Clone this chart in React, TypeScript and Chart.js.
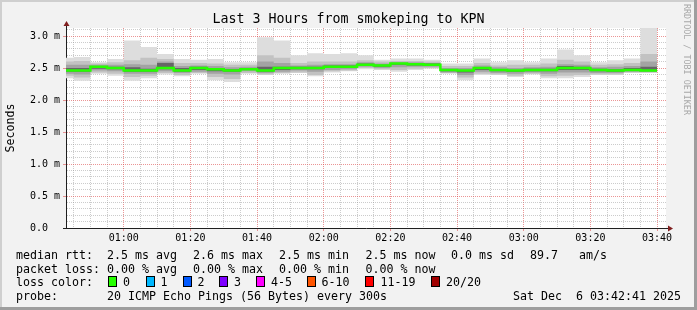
import React, { useEffect, useRef } from 'react';
import { Chart, registerables } from 'chart.js';

Chart.register(...registerables);

// ---------- data ----------
const rangeStart = '00:42:41';
const rangeEnd = '03:42:41';

// end time of each 300 s probe interval
const barEnds = [
  '00:45', '00:50', '00:55', '01:00', '01:05', '01:10', '01:15', '01:20', '01:25',
  '01:30', '01:35', '01:40', '01:45', '01:50', '01:55', '02:00', '02:05', '02:10',
  '02:15', '02:20', '02:25', '02:30', '02:35', '02:40', '02:45', '02:50', '02:55',
  '03:00', '03:05', '03:10', '03:15', '03:20', '03:25', '03:30', '03:35', '03:40',
];

// ping rtt distribution per interval (ms), outer to inner
const pingMax = [2.66, 2.67, 2.59, 2.64, 2.93, 2.83, 2.72, 2.64, 2.63, 2.64, 2.59, 2.59, 2.98, 2.93, 2.70, 2.73, 2.72, 2.73, 2.70, 2.63, 2.65, 2.65, 2.63, 2.57, 2.57, 2.65, 2.59, 2.62, 2.59, 2.65, 2.79, 2.70, 2.59, 2.62, 2.65, 3.20];
const pingHigh2 = [2.60, 2.61, 2.57, 2.59, 2.62, 2.66, 2.64, 2.58, 2.58, 2.57, 2.55, 2.55, 2.70, 2.66, 2.58, 2.60, 2.60, 2.60, 2.62, 2.60, 2.61, 2.61, 2.60, 2.53, 2.53, 2.58, 2.54, 2.55, 2.55, 2.57, 2.63, 2.60, 2.55, 2.56, 2.58, 2.72];
const pingHigh3 = [2.55, 2.55, 2.55, 2.55, 2.56, 2.55, 2.60, 2.53, 2.54, 2.53, 2.51, 2.52, 2.60, 2.58, 2.54, 2.55, 2.56, 2.56, 2.59, 2.57, 2.59, 2.59, 2.58, 2.50, 2.50, 2.54, 2.51, 2.50, 2.51, 2.52, 2.56, 2.55, 2.51, 2.52, 2.53, 2.60];
const pingHigh4 = [2.50, 2.50, 2.53, 2.52, 2.51, 2.49, 2.58, 2.50, 2.52, 2.50, 2.48, 2.50, 2.52, 2.52, 2.52, 2.52, 2.54, 2.54, 2.57, 2.55, 2.58, 2.58, 2.57, 2.48, 2.47, 2.51, 2.48, 2.47, 2.49, 2.49, 2.53, 2.52, 2.49, 2.48, 2.50, 2.52];
const pingMedian = [2.46, 2.46, 2.52, 2.50, 2.46, 2.46, 2.50, 2.46, 2.50, 2.48, 2.46, 2.48, 2.46, 2.50, 2.50, 2.50, 2.52, 2.52, 2.55, 2.54, 2.57, 2.56, 2.55, 2.47, 2.46, 2.50, 2.47, 2.46, 2.47, 2.47, 2.50, 2.50, 2.47, 2.46, 2.47, 2.46];
const pingLow4 = [2.44, 2.44, 2.49, 2.48, 2.44, 2.44, 2.48, 2.44, 2.47, 2.45, 2.44, 2.47, 2.44, 2.47, 2.48, 2.48, 2.50, 2.50, 2.54, 2.52, 2.55, 2.54, 2.54, 2.45, 2.43, 2.47, 2.45, 2.44, 2.45, 2.45, 2.47, 2.47, 2.45, 2.44, 2.46, 2.45];
const pingLow3 = [2.41, 2.40, 2.46, 2.45, 2.41, 2.41, 2.45, 2.42, 2.44, 2.41, 2.40, 2.45, 2.42, 2.44, 2.46, 2.44, 2.47, 2.48, 2.52, 2.50, 2.51, 2.52, 2.52, 2.43, 2.39, 2.44, 2.42, 2.41, 2.43, 2.41, 2.43, 2.43, 2.42, 2.42, 2.44, 2.44];
const pingLow2 = [2.38, 2.35, 2.43, 2.41, 2.36, 2.38, 2.42, 2.39, 2.42, 2.36, 2.33, 2.42, 2.40, 2.42, 2.43, 2.39, 2.45, 2.46, 2.50, 2.48, 2.47, 2.49, 2.50, 2.42, 2.35, 2.41, 2.40, 2.38, 2.41, 2.37, 2.38, 2.39, 2.40, 2.40, 2.43, 2.43];
const pingMin = [2.34, 2.30, 2.41, 2.38, 2.30, 2.34, 2.40, 2.37, 2.41, 2.31, 2.28, 2.41, 2.39, 2.41, 2.42, 2.37, 2.43, 2.45, 2.48, 2.47, 2.44, 2.47, 2.49, 2.41, 2.31, 2.39, 2.39, 2.36, 2.40, 2.34, 2.34, 2.36, 2.39, 2.39, 2.42, 2.42];

const xTickLabels = ['01:00', '01:20', '01:40', '02:00', '02:20', '02:40', '03:00', '03:20', '03:40'];
const yTickLabels = ['0.0', '0.5 m', '1.0 m', '1.5 m', '2.0 m', '2.5 m', '3.0 m'];
const yMax = 3.125;
const stepMinutes = 5;

const lossLegend = [
  { label: '0', color: '#26ff00', box: 108, text: 123 },
  { label: '1', color: '#00b8ff', box: 145.5, text: 160.5 },
  { label: '2', color: '#0059ff', box: 182.5, text: 197.5 },
  { label: '3', color: '#7e00ff', box: 219, text: 234 },
  { label: '4-5', color: '#ff00ff', box: 256, text: 271 },
  { label: '6-10', color: '#ff5500', box: 307, text: 321.5 },
  { label: '11-19', color: '#ff0000', box: 365, text: 380.5 },
  { label: '20/20', color: '#a10000', box: 430.5, text: 446 },
];

// ---------- helpers ----------
const toMin = (t: string) => {
  const p = t.split(':').map(Number);
  return p[0] * 60 + p[1] + (p[2] || 0) / 60;
};
const xMin = toMin(rangeStart);
const xMax = toMin(rangeEnd);
const endMins = barEnds.map(toMin);
const stepPoints = (vals: number[]) =>
  vals.flatMap((v, i) => [
    { x: endMins[i] - stepMinutes, y: v },
    { x: endMins[i], y: v },
  ]);

const xMajor = xTickLabels.map(toMin);
const yMajor = yTickLabels.map((s) => parseFloat(s));
const yLabelWidth = Math.max(...yTickLabels.map((s) => s.length));
const xTickVals: number[] = [];
for (let m = Math.ceil(xMin / stepMinutes) * stepMinutes; m < xMax; m += stepMinutes) xTickVals.push(m);
const yTickVals: number[] = [];
for (let i = 0; i / 10 < yMax; i++) yTickVals.push(i / 10);
const isXMajor = (v: number) => xMajor.some((m) => Math.abs(m - v) < 1e-6);
const isYMajor = (v: number) => yMajor.some((m) => Math.abs(m - v) < 1e-6);

const GRID = 'rgba(143,143,143,0.45)';
const MGRID = 'rgba(222,79,79,0.6)';
const AXIS = '#1f1f1f';
const ARROW = '#801f1f';
const MONO = "'DejaVu Sans Mono', monospace";

const layers = [
  { lo: pingMin, hi: pingMax, color: '#dddddd' },
  { lo: pingLow2, hi: pingHigh2, color: '#c2c2c2' },
  { lo: pingLow3, hi: pingHigh3, color: '#a3a3a3' },
  { lo: pingLow4, hi: pingHigh4, color: '#666666' },
];

const bgPlugin = {
  id: 'rrdBackground',
  beforeDraw(chart: any) {
    const { ctx, width, height, chartArea } = chart;
    ctx.save();
    ctx.fillStyle = '#f2f2f2';
    ctx.fillRect(0, 0, width, height);
    ctx.fillStyle = '#cfcfcf';
    ctx.fillRect(0, 0, width, 2);
    ctx.fillRect(0, 0, 2, height);
    ctx.fillStyle = '#9e9e9e';
    ctx.fillRect(0, height - 3, width, 3);
    ctx.fillRect(width - 3, 0, 3, height);
    ctx.fillStyle = '#ffffff';
    ctx.fillRect(chartArea.left, chartArea.top, chartArea.right - chartArea.left, chartArea.bottom - chartArea.top);
    ctx.restore();
  },
  afterDraw(chart: any) {
    const { ctx, chartArea } = chart;
    const { left, top, right, bottom } = chartArea;
    ctx.save();
    ctx.strokeStyle = AXIS;
    ctx.lineWidth = 1;
    ctx.beginPath();
    ctx.moveTo(left + 0.5, top);
    ctx.lineTo(left + 0.5, top - 4);
    ctx.moveTo(right, bottom + 0.5);
    ctx.lineTo(right + 3, bottom + 0.5);
    ctx.stroke();
    ctx.fillStyle = ARROW;
    ctx.beginPath();
    ctx.moveTo(left + 0.5 - 3, top - 2);
    ctx.lineTo(left + 0.5 + 3, top - 2);
    ctx.lineTo(left + 0.5, top - 7);
    ctx.closePath();
    ctx.fill();
    ctx.beginPath();
    ctx.moveTo(right + 2, bottom + 0.5 - 3);
    ctx.lineTo(right + 2, bottom + 0.5 + 3);
    ctx.lineTo(right + 7, bottom + 0.5);
    ctx.closePath();
    ctx.fill();
    ctx.restore();
  },
};

function buildDatasets() {
  const ds: any[] = [
    {
      label: 'median',
      data: stepPoints(pingMedian),
      borderColor: '#26ff00',
      borderWidth: 2.5,
      pointRadius: 0,
      fill: false,
      order: 0,
      clip: 0,
    },
  ];
  layers.forEach((l, k) => {
    const loIndex = ds.length;
    ds.push({
      label: 'lo' + k,
      data: stepPoints(l.lo),
      borderWidth: 0,
      borderColor: 'rgba(0,0,0,0)',
      pointRadius: 0,
      fill: false,
      order: 20 - k * 2,
    });
    ds.push({
      label: 'hi' + k,
      data: stepPoints(l.hi),
      borderWidth: 0,
      borderColor: 'rgba(0,0,0,0)',
      backgroundColor: l.color,
      pointRadius: 0,
      fill: loIndex,
      order: 19 - k * 2,
    });
  });
  return ds;
}

export default function App() {
  const ref = useRef<HTMLCanvasElement>(null);
  useEffect(() => {
    const chart = new Chart(ref.current as HTMLCanvasElement, {
      type: 'line',
      data: { datasets: buildDatasets() },
      plugins: [bgPlugin],
      options: {
        animation: false,
        responsive: false,
        maintainAspectRatio: false,
        devicePixelRatio: 1,
        events: [],
        layout: { padding: { left: 0, top: 28, right: 31, bottom: 0 } },
        elements: { line: { tension: 0 }, point: { radius: 0 } },
        plugins: { legend: { display: false }, tooltip: { enabled: false }, title: { display: false } },
        scales: {
          x: {
            type: 'linear',
            min: xMin,
            max: xMax,
            z: 1,
            afterFit: (s: any) => { s.height = 82; },
            afterBuildTicks: (s: any) => { s.ticks = xTickVals.map((v) => ({ value: v })); },
            ticks: {
              autoSkip: false,
              maxRotation: 0,
              minRotation: 0,
              padding: 1,
              color: '#000',
              font: { family: MONO, size: 10 },
              callback: (v: any) => {
                const i = xMajor.findIndex((m) => Math.abs(m - v) < 1e-6);
                return i >= 0 ? xTickLabels[i] : '';
              },
            },
            grid: {
              color: (c: any) => (c.tick && isXMajor(c.tick.value) ? MGRID : GRID),
              tickColor: (c: any) => (c.tick && isXMajor(c.tick.value) ? MGRID : 'rgba(0,0,0,0)'),
              tickLength: 3,
              lineWidth: 1,
            },
            border: { display: true, color: AXIS, width: 1, dash: [1, 1] },
          },
          y: {
            type: 'linear',
            min: 0,
            max: yMax,
            z: 1,
            afterFit: (s: any) => { s.width = 66; },
            afterBuildTicks: (s: any) => { s.ticks = yTickVals.map((v) => ({ value: v })); },
            ticks: {
              autoSkip: false,
              crossAlign: 'near',
              padding: 3,
              color: '#000',
              font: { family: MONO, size: 10 },
              callback: (v: any) => {
                const i = yMajor.findIndex((m) => Math.abs(m - v) < 1e-6);
                return i >= 0 ? yTickLabels[i].padEnd(yLabelWidth, ' ') : '';
              },
            },
            grid: {
              color: (c: any) => {
                if (!c.tick) return GRID;
                if (Math.abs(c.tick.value) < 1e-6) return 'rgba(0,0,0,0)';
                return isYMajor(c.tick.value) ? MGRID : GRID;
              },
              tickColor: (c: any) => {
                if (!c.tick) return 'rgba(0,0,0,0)';
                if (Math.abs(c.tick.value) < 1e-6) return AXIS;
                return isYMajor(c.tick.value) ? MGRID : 'rgba(0,0,0,0)';
              },
              tickLength: 3,
              lineWidth: 1,
            },
            border: { display: true, color: AXIS, width: 1, dash: [1, 1] },
            title: {
              display: true,
              text: 'Seconds',
              color: '#000',
              font: { family: MONO, size: 11.63 },
              padding: { top: 4, bottom: 0 },
            },
          },
        },
      } as any,
    });
    return () => chart.destroy();
  }, []);

  const txt: React.CSSProperties = {
    position: 'absolute',
    fontFamily: MONO,
    fontSize: '11.63px',
    lineHeight: '14px',
    whiteSpace: 'pre',
    color: '#000',
  };
  const rowTop = [247.5, 261.5, 275, 289];
  const row1 = [
    ['median rtt:', 16], ['2.5 ms avg', 107], ['2.6 ms max', 193], ['2.5 ms min', 279],
    ['2.5 ms now', 365.5], ['0.0 ms sd', 451], ['89.7', 530], ['am/s', 579],
  ] as [string, number][];
  const row2 = [
    ['packet loss:', 16], ['0.00 % avg', 107], ['0.00 % max', 193], ['0.00 % min', 279], ['0.00 % now', 365.5],
  ] as [string, number][];
  const row4 = [
    ['probe:', 16], ['20 ICMP Echo Pings (56 Bytes) every 300s', 107], ['Sat Dec  6 03:42:41 2025', 513],
  ] as [string, number][];

  return (
    <div style={{ position: 'absolute', left: 0, top: 0, width: 697, height: 310, overflow: 'hidden' }}>
      <canvas ref={ref} width={697} height={310} style={{ display: 'block', width: 697, height: 310 }} />
      <div
        style={{
          position: 'absolute', left: 0, top: 11.4, width: 697, textAlign: 'center',
          fontFamily: MONO, fontSize: '13.3px', lineHeight: '16px', whiteSpace: 'pre', color: '#000',
        }}
      >
        Last 3 Hours from smokeping to KPN
      </div>
      <div
        style={{
          position: 'absolute', left: 682, top: 4, fontFamily: MONO, fontSize: '8.4px', lineHeight: '10px',
          writingMode: 'vertical-rl', whiteSpace: 'pre', color: '#a8a8a8',
        }}
      >
        RRDTOOL / TOBI OETIKER
      </div>
      {row1.map(([s, x], i) => (<span key={'r1' + i} style={{ ...txt, left: x, top: rowTop[0] }}>{s}</span>))}
      {row2.map(([s, x], i) => (<span key={'r2' + i} style={{ ...txt, left: x, top: rowTop[1] }}>{s}</span>))}
      <span style={{ ...txt, left: 16, top: rowTop[2] }}>loss color:</span>
      {lossLegend.map((l) => (
        <React.Fragment key={l.label}>
          <span
            style={{
              position: 'absolute', left: l.box, top: rowTop[2] + 0.5, width: 7, height: 9,
              background: l.color, border: '1px solid #000',
            }}
          />
          <span style={{ ...txt, left: l.text, top: rowTop[2] }}>{l.label}</span>
        </React.Fragment>
      ))}
      {row4.map(([s, x], i) => (<span key={'r4' + i} style={{ ...txt, left: x, top: rowTop[3] }}>{s}</span>))}
    </div>
  );
}
